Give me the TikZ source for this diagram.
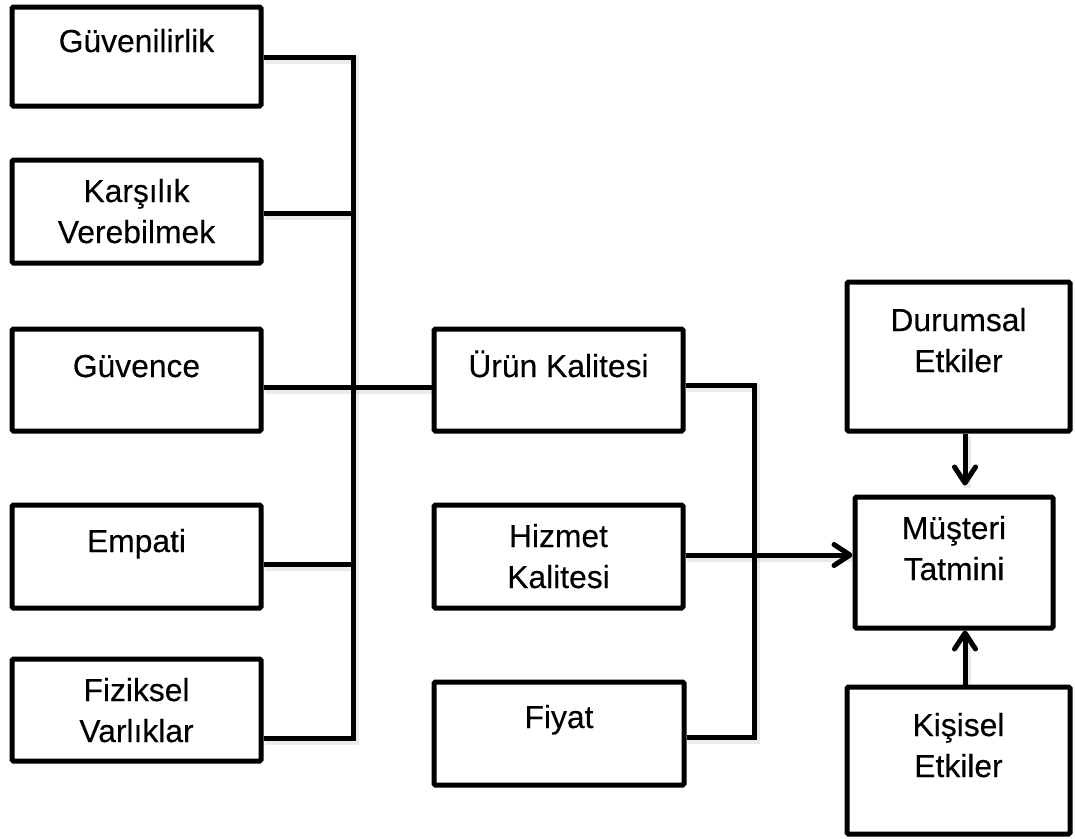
\documentclass[tikz,border=0pt]{standalone}
\usepackage{fontspec}
\setmainfont{Liberation Sans}
\newfontfamily\lblfont{Liberation Sans}[FakeBold=0.3]
\usetikzlibrary{arrows.meta}
\begin{document}
\begin{tikzpicture}[x=1pt,y=-1pt,
  box/.style={draw, line width=5pt, rounded corners=1.5pt, inner sep=0pt},
  lbox/.style={box, minimum width=249pt, minimum height=101pt},
  txt/.style={anchor=base, align=center, inner sep=0pt, font=\lblfont\fontsize{31.8}{41}\selectfont},
  wire/.style={line width=5pt},
  shade/.style={line width=8pt, black, opacity=0.08, transform canvas={shift={(1.5pt,-2.5pt)}}},
  arr/.style={wire, -{Straight Barb[length=16pt, width=21pt, round]}}]
\useasboundingbox (0,0) rectangle (1075,838);

% left column: service quality dimensions
\node[lbox, minimum height=99pt] (g1) at (136.5,56.5) {};
\node[lbox, minimum height=103pt] (g2) at (136.5,211.5) {};
\node[lbox, minimum height=102pt] (g3) at (136.5,380) {};
\node[lbox, minimum height=103pt] (g4) at (136.5,556.5) {};
\node[lbox, minimum height=102pt] (g5) at (136.5,710) {};
\node[txt] (g1t) at (136.5,52) {Güvenilirlik};
\node[txt] (g2t) at (136.5,243) {Karşılık\\Verebilmek};
\node[txt] (g3t) at (136.5,377) {Güvence};
\node[txt] (g4t) at (136.5,552) {Empati};
\node[txt] (g5t) at (136.5,742) {Fiziksel\\Varlıklar};

% middle column
\node[lbox, minimum height=102pt] (m1) at (558.5,380) {};
\node[lbox, minimum height=103pt] (m2) at (558.5,556.5) {};
\node[lbox, minimum height=103pt, minimum width=250pt] (m3) at (559,733.5) {};
\node[txt] (m1t) at (558.5,377) {Ürün Kalitesi};
\node[txt] (m2t) at (558.5,588) {Hizmet\\Kalitesi};
\node[txt] (m3t) at (559,728) {Fiyat};

% right column
\node[box, minimum width=223pt, minimum height=149pt] (d) at (958.5,356.5) {};
\node[box, minimum width=198pt, minimum height=131pt] (s) at (954,562.5) {};
\node[box, minimum width=223pt, minimum height=147pt] (k) at (958.5,760.5) {};
\node[txt] (dt) at (958.5,372) {Durumsal\\Etkiler};
\node[txt] (st) at (954,580) {Müşteri\\Tatmini};
\node[txt] (kt) at (958.5,777) {Kişisel\\Etkiler};

% bus junction points and the column of the vertical arrows
\coordinate (lb1) at (353,57);
\coordinate (lb2) at (353,213);
\coordinate (lb3) at (353,387);
\coordinate (lb4) at (353,564);
\coordinate (lb5) at (353,738);
\coordinate (rb1) at (754,385);
\coordinate (rb2) at (754,555);
\coordinate (rb3) at (754,737);
\coordinate (ax) at (965,0);

% soft shadows under the connectors
\draw[shade] (g1.east |- lb1) -- (lb1) -- (lb5) -- (g5.east |- lb5);
\draw[shade] (g2.east |- lb2) -- (lb2);
\draw[shade] (g3.east |- lb3) -- (m1.west |- lb3);
\draw[shade] (g4.east |- lb4) -- (lb4);
\draw[shade] (m1.east |- rb1) -- (rb1) -- (rb3) -- (m3.east |- rb3);
\draw[shade] (m2.east |- rb2) -- (s.west |- rb2);
\draw[shade, shorten >=9pt] (d.south -| ax) -- (s.north -| ax);
\draw[shade] (k.north -| ax) -- (s.south -| ax);

% connectors from the dimensions to product quality
\draw[wire] (g1.east |- lb1) -- (lb1) -- (lb5) -- (g5.east |- lb5);
\draw[wire] (g2.east |- lb2) -- (lb2);
\draw[wire] (g3.east |- lb3) -- (m1.west |- lb3);
\draw[wire] (g4.east |- lb4) -- (lb4);

% connectors into customer satisfaction
\draw[wire] (m1.east |- rb1) -- (rb1) -- (rb3) -- (m3.east |- rb3);
\draw[arr] (m2.east |- rb2) -- (s.west |- rb2);
\draw[arr, shorten >=9pt] (d.south -| ax) -- (s.north -| ax);
\draw[arr] (k.north -| ax) -- (s.south -| ax);
\end{tikzpicture}
\end{document}
